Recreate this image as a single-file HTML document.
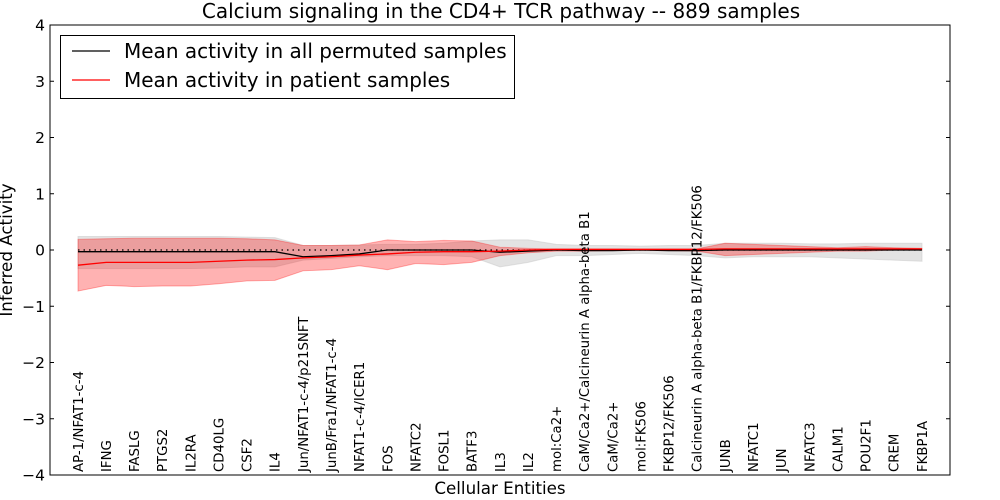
<!DOCTYPE html>
<html><head><meta charset="utf-8"><style>
body{margin:0;background:#fff;}
svg{display:block;font-family:"DejaVu Sans","Liberation Sans",sans-serif;}
</style></head><body>
<svg id="c" width="1000" height="500"></svg>
<script>
const categories=["AP-1/NFAT1-c-4","IFNG","FASLG","PTGS2","IL2RA","CD40LG","CSF2","IL4","Jun/NFAT1-c-4/p21SNFT","JunB/Fra1/NFAT1-c-4","NFAT1-c-4/ICER1","FOS","NFATC2","FOSL1","BATF3","IL3","IL2","mol:Ca2+","CaM/Ca2+/Calcineurin A alpha-beta B1","CaM/Ca2+","mol:FK506","FKBP12/FK506","Calcineurin A alpha-beta B1/FKBP12/FK506","JUNB","NFATC1","JUN","NFATC3","CALM1","POU2F1","CREM","FKBP1A"];
const permMean=[-0.03,-0.03,-0.03,-0.03,-0.03,-0.03,-0.03,-0.03,-0.12,-0.1,-0.07,0,0,0,0,-0.04,-0.02,0,-0.01,-0.01,0,-0.01,-0.01,0,0,0,0,0,0,0,0];
const permUpper=[0.24,0.24,0.24,0.24,0.24,0.24,0.23,0.22,0.08,0.08,0.09,0.1,0.1,0.12,0.16,0.18,0.18,0.1,0.08,0.08,0.07,0.08,0.08,0.12,0.12,0.12,0.11,0.11,0.12,0.12,0.12];
const permLower=[-0.33,-0.33,-0.33,-0.33,-0.33,-0.32,-0.3,-0.3,-0.18,-0.15,-0.12,-0.1,-0.1,-0.1,-0.12,-0.3,-0.22,-0.1,-0.1,-0.08,-0.06,-0.08,-0.1,-0.14,-0.12,-0.12,-0.12,-0.14,-0.16,-0.18,-0.2];
const patMean=[-0.27,-0.22,-0.22,-0.22,-0.22,-0.2,-0.18,-0.17,-0.14,-0.12,-0.09,-0.07,-0.04,-0.03,-0.03,-0.02,0,0.01,0.01,0.01,0.01,0.01,0.01,0.02,0.02,0.02,0.02,0.02,0.02,0.02,0.02];
const patUpper=[0.19,0.2,0.21,0.21,0.21,0.21,0.2,0.18,0.08,0.08,0.09,0.18,0.15,0.17,0.16,0.05,0.03,0.02,0.02,0.02,0.02,0.02,0.02,0.12,0.1,0.08,0.06,0.04,0.06,0.04,0.03];
const patLower=[-0.73,-0.63,-0.65,-0.64,-0.64,-0.6,-0.55,-0.54,-0.37,-0.35,-0.28,-0.35,-0.24,-0.26,-0.22,-0.1,-0.05,-0.02,-0.02,-0.01,0,-0.01,-0.02,-0.1,-0.08,-0.06,-0.04,-0.02,-0.02,0,0];
const yTicks=[-4,-3,-2,-1,0,1,2,3,4];

const NS="http://www.w3.org/2000/svg";
const svg=document.getElementById('c');
const L=50,R=950,T=25,B=475;
const x0=78,x1=922;
const X=i=>x0+i*(x1-x0)/(categories.length-1);
const Y=v=>T+(4-v)*(B-T)/8;
function mk(tag,attrs,parent){const e=document.createElementNS(NS,tag);for(const k in attrs)e.setAttribute(k,attrs[k]);(parent||svg).appendChild(e);return e;}
function band(up,lo,fill,op,name){
  let d='M'+up.map((v,i)=>X(i)+','+Y(v)).join('L')+'L'+lo.map((v,i)=>X(i)+','+Y(v)).reverse().join('L')+'Z';
  const p=mk('path',{d:d,fill:fill,'fill-opacity':op,stroke:fill,'stroke-opacity':op,'stroke-width':1});
  
  
}
function line(vals,stroke,name){
  const p=mk('polyline',{points:vals.map((v,i)=>X(i)+','+Y(v)).join(' '),fill:'none',stroke:stroke,'stroke-width':1.3});
  
  
}
band(permUpper,permLower,'#c8c8c8',0.5,'permuted-band');
band(patUpper,patLower,'#ff0000',0.3,'patient-band');
const zl=mk('line',{x1:X(0),x2:X(categories.length-1),y1:Y(0),y2:Y(0),stroke:'#000','stroke-width':1.2,'stroke-dasharray':'1.5,4'});


line(permMean,'#000','permuted-mean-line');
line(patMean,'#ff0000','patient-mean-line');

const fr=mk('rect',{x:L,y:T,width:R-L,height:B-T,fill:'none',stroke:'#000','stroke-width':1});



yTicks.forEach(v=>{
  const y=Y(v);
  mk('line',{x1:L,x2:L+4,y1:y,y2:y,stroke:'#000'});
  mk('line',{x1:R,x2:R-4,y1:y,y2:y,stroke:'#000'});
  const t=mk('text',{x:L-5,y:y+5.5,'text-anchor':'end','font-size':15.5});
  t.textContent=(v<0?'\u2212':'')+Math.abs(v);
  
  
});
categories.forEach((c,i)=>{
  const x=X(i);
  const t=mk('text',{x:0,y:0,'font-size':13.3,transform:`translate(${x+4.8},472) rotate(-90)`});
  t.textContent=c;
  
  
});
const title=mk('text',{x:501,y:18,'text-anchor':'middle','font-size':20});
title.textContent='Calcium signaling in the CD4+ TCR pathway -- 889 samples';


const xt=mk('text',{x:500,y:494,'text-anchor':'middle','font-size':16.7});
xt.textContent='Cellular Entities';


const yt=mk('text',{x:0,y:0,'text-anchor':'middle','font-size':16.7,transform:'translate(12,250) rotate(-90)'});
yt.textContent='Inferred Activity';



const lg=mk('g',{});


mk('rect',{x:60.5,y:35.5,width:454,height:63,fill:'#fff',stroke:'#000'},lg);
mk('line',{x1:72,x2:110,y1:51,y2:51,stroke:'#000','stroke-width':1.3},lg);
mk('line',{x1:72,x2:110,y1:80,y2:80,stroke:'#f00','stroke-width':1.3},lg);
const l1=mk('text',{x:124,y:58,'font-size':20},lg);l1.textContent='Mean activity in all permuted samples';


const l2=mk('text',{x:124,y:87,'font-size':20},lg);l2.textContent='Mean activity in patient samples';


</script>
</body></html>
